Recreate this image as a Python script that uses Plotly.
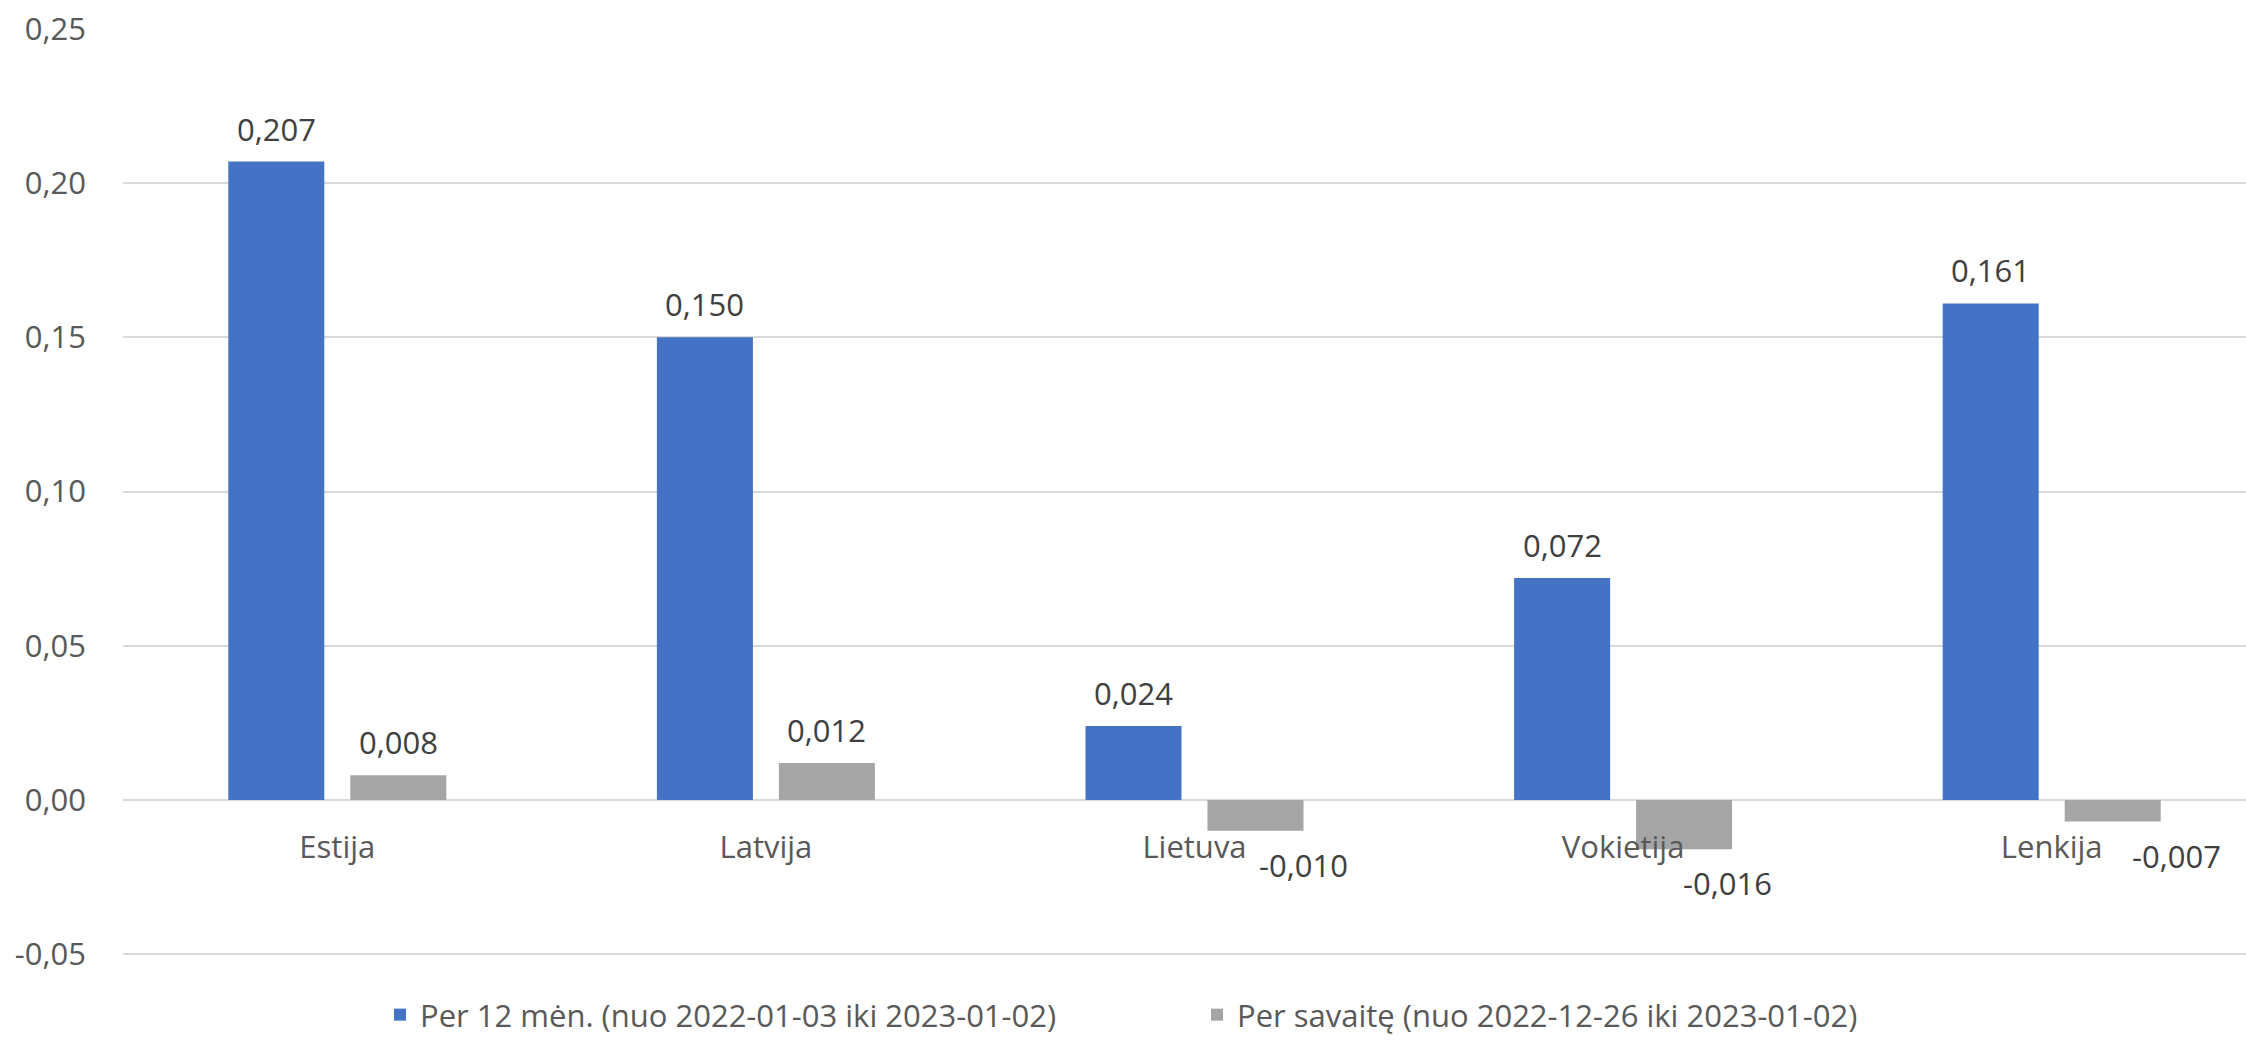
import plotly.graph_objects as go

# ---- data ----
categories = ["Estija", "Latvija", "Lietuva", "Vokietija", "Lenkija"]
series_12m_name = "Per 12 mėn. (nuo 2022-01-03 iki 2023-01-02)"
series_week_name = "Per savaitę (nuo 2022-12-26 iki 2023-01-02)"
values_12m = [0.207, 0.150, 0.024, 0.072, 0.161]
values_week = [0.008, 0.012, -0.010, -0.016, -0.007]
y_tickvals = [-0.05, 0.00, 0.05, 0.10, 0.15, 0.20, 0.25]
y_ticktext = ["-0,05", "0,00", "0,05", "0,10", "0,15", "0,20", "0,25"]

# ---- style ----
W, H = 2246, 1044
BLUE = "#4472C4"
GRAY = "#A5A5A5"
FONT = "Open Sans"
FS = 31
SLOT = 61            # px offset of each bar from its category centre
neg_label_dx = {"Lietuva": 48, "Vokietija": 43, "Lenkija": 64}


def fmt(v):
    s = f"{abs(v):.3f}".replace(".", ",")
    return ("-" if v < 0 else "") + s


fig = go.Figure()
fig.add_trace(go.Bar(x=categories, y=values_12m, name=series_12m_name,
                     marker=dict(color=BLUE, line=dict(width=0)),
                     legendwidth=772))
fig.add_trace(go.Bar(x=categories, y=values_week, name=series_week_name,
                     marker=dict(color=GRAY, line=dict(width=0))))

annotations = []
for series, sign in ((values_12m, -1), (values_week, 1)):
    for cat, v in zip(categories, series):
        dx = sign * SLOT
        if v < 0:
            dx += neg_label_dx.get(cat, 0)
        annotations.append(dict(
            x=cat, y=v, xref="x", yref="y", text=fmt(v), showarrow=False,
            xshift=dx, yshift=33 if v >= 0 else -34,
            xanchor="center", yanchor="middle",
            font=dict(family=FONT, size=FS, color="#404040")))

ML, MT, MB = 123, 28, 88
plot_w = W - ML
plot_h = H - MT - MB
cat_w = 428.6
x_max = plot_w / cat_w - 0.5
y_lo, y_hi = -0.0506, 0.2503

fig.update_layout(
    width=W, height=H,
    margin=dict(l=ML, r=0, t=MT, b=MB, pad=0, autoexpand=False),
    paper_bgcolor="white", plot_bgcolor="white",
    barmode="group", bargap=0.4307, bargroupgap=0.213,
    font=dict(family=FONT, size=FS, color="#595959"),
    separators=", ",
    xaxis=dict(range=[-0.5, x_max], showgrid=False, zeroline=False,
               showline=False, anchor="free",
               position=(0 - y_lo) / (y_hi - y_lo),
               ticks="outside", ticklen=20, tickcolor="rgba(0,0,0,0)",
               tickfont=dict(family=FONT, size=FS, color="#595959")),
    yaxis=dict(range=[y_lo, y_hi], tickvals=y_tickvals, ticktext=y_ticktext,
               showgrid=True, gridcolor="#D9D9D9", gridwidth=2,
               zeroline=False, showline=False, ticks="",
               ticklabelstandoff=36,
               tickfont=dict(family=FONT, size=FS, color="#595959")),
    legend=dict(orientation="h", x=(380 - ML) / plot_w, xanchor="left",
                y=-(MB - 2) / plot_h, yanchor="bottom",
                font=dict(family=FONT, size=FS, color="#595959"),
                bgcolor="rgba(0,0,0,0)"),
    annotations=annotations,
)

fig.write_html("out.html",
               config={"displayModeBar": False},
               post_script="document.body.style.margin='0';document.body.style.overflow='hidden';")
